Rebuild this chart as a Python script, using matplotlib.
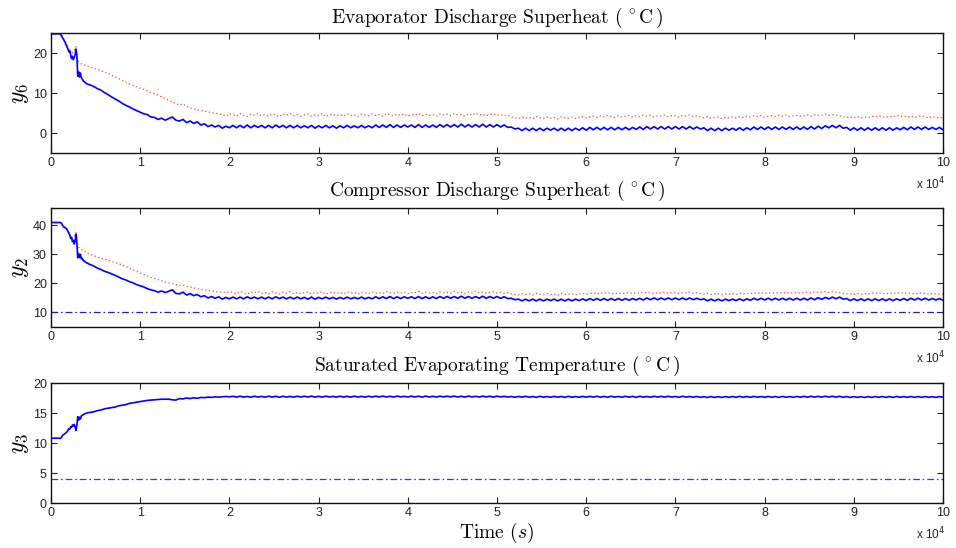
import numpy as np
import matplotlib
matplotlib.use("Agg")
import matplotlib.pyplot as plt

# ---------------- data ----------------
t_early = list(range(0, 4000, 100))          # 40 samples
t_late = list(range(4000, 100001, 400))      # 241 samples
time_s = np.array(t_early + t_late, dtype=float)

xtick_values = [0, 10000, 20000, 30000, 40000, 50000, 60000, 70000, 80000, 90000, 100000]
xtick_labels = ["0", "1", "2", "3", "4", "5", "6", "7", "8", "9", "10"]

# Evaporator discharge superheat y6 (blue solid = measured, red dotted = second signal)
y6_blue = (
    [24.8] * 11 +
    [24.6, 24.2, 23.8, 23.4, 23.0, 22.6, 22.0, 21.5, 21.0, 20.3,
     20.6, 19.5, 18.6, 19.2, 18.3, 18.9, 19.5, 21.0, 19.5, 14.2,
     15.3, 14.0, 15.0, 13.8, 13.5, 13.1, 12.9, 12.7, 12.5] +
    [12.3, 12.0, 11.6, 11.1, 10.7, 10.1, 9.6, 9.0, 8.5, 8.0,
     7.4, 6.9, 6.5, 6.0, 5.6, 5.2, 4.8, 4.6, 4.0, 3.9,
     3.4, 3.7, 3.2, 3.6, 4.0, 3.2, 3.0, 3.4, 2.6, 3.0,
     2.4, 2.8, 2.0, 2.3, 1.6, 2.0, 1.5, 1.9, 1.2, 1.7,
     1.3] +
    [1.9, 1.3, 1.9, 1.3, 2.0, 1.3, 1.9, 1.4, 1.9, 1.3, 1.9, 1.3, 2.0, 1.4, 1.9, 1.3, 1.9, 1.3, 1.9, 1.3,
     1.8, 1.3, 1.9, 1.2, 1.8, 1.3, 1.9, 1.3, 1.8, 1.2, 1.8, 1.3, 1.9, 1.3, 1.8, 1.3, 1.9, 1.3, 1.8, 1.3,
     2.0, 1.4, 2.0, 1.4, 2.1, 1.4, 2.0, 1.4, 2.0, 1.5, 2.0, 1.4, 2.1, 1.4, 2.0, 1.4, 2.0, 1.4, 2.1, 1.5,
     2.1, 1.5, 2.1, 1.5, 2.2, 1.5, 2.1, 1.5, 2.1, 1.5, 2.2, 1.5, 2.1, 1.5, 2.1, 1.5, 2.0, 1.4, 1.5, 1.0,
     1.2, 0.6, 1.2, 0.6, 1.2, 0.6, 1.2, 0.6, 1.2, 0.7, 1.2, 0.6, 1.2, 0.6, 1.2, 0.6, 1.2, 0.7, 1.3, 0.7,
     1.4, 0.8, 1.4, 0.8, 1.4, 0.8, 1.4, 0.8, 1.4, 0.8, 1.4, 0.8, 1.4, 0.9, 1.5, 0.9, 1.6, 1.0, 1.6, 1.0,
     1.6, 1.0, 1.6, 1.0, 1.6, 1.0, 1.6, 1.0, 1.6, 1.0, 1.5, 1.0, 1.3, 0.6, 1.2, 0.6, 1.2, 0.6, 1.2, 0.7,
     1.2, 0.7, 1.3, 0.7, 1.3, 0.8, 1.5, 0.9, 1.5, 0.9, 1.5, 0.9, 1.5, 0.9, 1.5, 0.9, 1.5, 0.9, 1.5, 0.9,
     1.5, 0.9, 1.6, 1.0, 1.7, 1.1, 1.8, 1.3, 1.9, 1.3, 1.9, 1.2, 1.4, 0.7, 1.3, 0.7, 1.3, 0.7, 1.3, 0.7,
     1.3, 0.7, 1.3, 0.7, 1.3, 0.7, 1.3, 0.8, 1.4, 0.8, 1.5, 0.9, 1.5, 0.9, 1.5, 0.9, 1.4, 0.9, 1.4, 0.8]
)
y6_red = (
    [24.8] * 11 +
    [24.7, 24.4, 24.0, 23.6, 23.2, 22.8, 22.5, 22.0, 21.5, 21.0,
     20.8, 20.2, 20.5, 20.0, 20.4, 20.8, 21.3, 21.6, 19.0, 18.0,
     17.8, 17.6, 17.4, 17.3, 17.2, 17.1, 17.0, 16.9, 16.8] +
    [16.7, 16.5, 16.2, 15.9, 15.6, 15.2, 15.0, 14.4, 14.0, 13.6,
     13.1, 12.7, 12.3, 11.9, 11.6, 11.2, 10.9, 10.5, 10.1, 9.8,
     9.5, 9.0, 8.6, 8.2, 7.7, 7.4, 7.0, 7.3, 6.6, 6.3,
     6.0, 5.8, 5.6, 5.5, 5.3, 5.1, 5.0, 4.8, 4.6, 4.2,
     4.8] +
    [4.6, 4.2, 4.9, 4.4, 4.1, 4.7, 4.5, 4.9, 4.3, 4.6, 4.2, 4.8, 4.5, 4.1, 4.7, 4.4, 4.9, 4.3, 4.6, 4.2,
     4.5, 4.8, 4.2, 4.6, 4.4, 4.9, 4.1, 4.5, 4.7, 4.3, 4.6, 4.2, 4.8, 4.4, 4.6, 4.1, 4.7, 4.5, 4.3, 4.8,
     4.4, 4.6, 4.2, 4.9, 4.5, 4.3, 4.7, 4.4, 4.8, 4.2, 4.6, 4.5, 4.9, 4.3, 4.7, 4.4, 4.6, 4.2, 4.8, 4.5,
     4.7, 4.3, 4.9, 4.5, 4.6, 4.2, 4.8, 4.4, 5.0, 4.5, 4.7, 4.3, 4.6, 4.8, 4.4, 4.6, 4.3, 4.5, 4.0, 3.8,
     3.6, 4.0, 3.7, 3.9, 3.5, 4.1, 3.8, 3.6, 4.0, 3.7, 3.9, 3.5, 4.1, 3.8, 3.7, 4.0, 3.6, 3.9, 4.1, 3.8,
     4.0, 4.2, 3.9, 4.3, 4.0, 4.4, 4.1, 3.9, 4.3, 4.0, 4.2, 4.4, 4.0, 4.3, 4.1, 4.5, 4.2, 4.4, 4.0, 4.3,
     4.2, 4.5, 4.1, 4.4, 4.3, 4.0, 4.4, 4.2, 4.5, 4.1, 4.3, 4.0, 3.8, 4.1, 3.7, 3.9, 4.0, 3.6, 3.9, 3.8,
     4.0, 3.7, 4.1, 3.9, 4.2, 4.0, 4.3, 4.1, 4.4, 4.0, 4.2, 4.3, 4.1, 4.4, 4.2, 4.5, 4.1, 4.3, 4.4, 4.2,
     4.3, 4.5, 4.2, 4.6, 4.4, 4.5, 4.7, 4.4, 4.6, 4.5, 4.3, 4.1, 3.9, 4.0, 3.7, 4.1, 3.8, 4.0, 3.9, 4.2,
     4.0, 4.3, 4.1, 3.9, 4.2, 4.0, 4.4, 4.1, 4.3, 4.0, 4.2, 3.9, 4.1, 4.3, 4.0, 3.8, 4.1, 3.9, 3.8, 3.9]
)

# Compressor discharge superheat y2
y2_blue = (
    [41.0] * 12 +
    [40.6, 40.0, 39.6, 39.3, 39.1, 39.0, 38.6, 38.0,
     37.2, 36.8, 35.5, 35.9, 34.4, 34.9, 33.6, 34.5, 37.0, 34.0,
     28.8, 30.3, 28.9, 30.0, 28.5, 28.7, 28.0, 27.8, 27.5, 27.3] +
    [27.1, 26.5, 26.0, 25.3, 24.8, 24.2, 23.8, 23.3, 22.8, 22.2,
     21.6, 21.2, 20.6, 20.2, 19.6, 19.2, 18.8, 18.2, 17.8, 17.5,
     17.0, 17.4, 16.9, 17.3, 17.8, 16.6, 16.4, 17.0, 16.0, 16.5,
     15.8, 16.2, 15.4, 15.8, 15.0, 15.5, 14.9, 15.4, 14.6, 15.2,
     14.7] +
    [15.3, 14.7, 15.3, 14.7, 15.4, 14.8, 15.3, 14.7, 15.3, 14.7, 15.3, 14.7, 15.4, 14.8, 15.3, 14.7, 15.3, 14.7, 15.3, 14.7,
     15.2, 14.6, 15.3, 14.6, 15.2, 14.7, 15.3, 14.7, 15.2, 14.6, 15.2, 14.7, 15.3, 14.7, 15.2, 14.7, 15.3, 14.7, 15.2, 14.7,
     15.4, 14.8, 15.4, 14.8, 15.5, 14.8, 15.4, 14.8, 15.4, 14.9, 15.4, 14.8, 15.5, 14.8, 15.4, 14.8, 15.4, 14.8, 15.5, 14.9,
     15.5, 14.9, 15.5, 14.9, 15.6, 14.9, 15.5, 14.9, 15.5, 14.9, 15.6, 14.9, 15.5, 14.9, 15.5, 14.9, 15.4, 14.8, 14.9, 14.4,
     14.6, 14.0, 14.6, 14.0, 14.6, 14.0, 14.6, 14.0, 14.6, 14.1, 14.6, 14.0, 14.6, 14.0, 14.6, 14.0, 14.6, 14.1, 14.7, 14.1,
     14.8, 14.2, 14.8, 14.2, 14.8, 14.2, 14.8, 14.2, 14.8, 14.2, 14.8, 14.2, 14.8, 14.3, 14.9, 14.3, 15.0, 14.4, 15.0, 14.4,
     15.0, 14.4, 15.0, 14.4, 15.0, 14.4, 15.0, 14.4, 15.0, 14.4, 14.9, 14.4, 14.7, 14.0, 14.6, 14.0, 14.6, 14.0, 14.6, 14.1,
     14.6, 14.1, 14.7, 14.1, 14.7, 14.2, 14.9, 14.3, 14.9, 14.3, 14.9, 14.3, 14.9, 14.3, 14.9, 14.3, 14.9, 14.3, 14.9, 14.3,
     14.9, 14.3, 15.0, 14.4, 15.1, 14.5, 15.2, 14.7, 15.3, 14.7, 15.3, 14.6, 14.8, 14.1, 14.7, 14.1, 14.7, 14.1, 14.7, 14.1,
     14.7, 14.1, 14.7, 14.1, 14.7, 14.1, 14.7, 14.2, 14.8, 14.2, 14.9, 14.3, 14.9, 14.3, 14.9, 14.3, 14.8, 14.3, 14.8, 14.2]
)
y2_red = (
    [41.0] * 12 +
    [40.7, 40.2, 39.8, 39.5, 39.2, 39.0, 38.6, 38.2,
     37.6, 37.0, 36.2, 36.5, 35.6, 35.8, 36.2, 36.8, 37.5, 35.5,
     33.0, 32.5, 32.2, 32.0, 31.8, 31.5, 31.4, 31.2, 31.0, 30.8] +
    [30.5, 30.1, 29.5, 29.1, 28.7, 28.4, 28.0, 27.6, 27.2, 26.8,
     26.3, 25.8, 25.3, 24.7, 24.2, 23.6, 23.1, 22.6, 22.1, 21.7,
     21.3, 20.9, 20.5, 20.2, 20.0, 19.6, 19.3, 19.4, 19.0, 18.8,
     18.5, 18.2, 18.0, 17.8, 17.6, 17.4, 17.2, 17.0, 17.1, 16.8,
     17.2] +
    [16.9, 16.4, 17.2, 16.7, 16.3, 17.0, 16.8, 17.3, 16.5, 16.9, 16.4, 17.1, 16.8, 16.3, 17.0, 16.6, 17.2, 16.5, 16.9, 16.4,
     16.8, 17.1, 16.4, 16.9, 16.6, 17.2, 16.3, 16.8, 17.0, 16.5, 16.9, 16.4, 17.1, 16.7, 16.9, 16.3, 17.0, 16.8, 16.5, 17.1,
     16.7, 16.9, 16.5, 17.2, 16.8, 16.6, 17.0, 16.7, 17.1, 16.5, 16.9, 16.8, 17.3, 16.6, 17.0, 16.7, 16.9, 16.5, 17.1, 16.8,
     17.0, 16.6, 17.3, 16.8, 16.9, 16.5, 17.1, 16.7, 17.4, 16.8, 17.0, 16.6, 16.9, 17.1, 16.7, 16.9, 16.6, 16.8, 16.4, 16.2,
     16.1, 16.5, 16.2, 16.4, 16.0, 16.6, 16.3, 16.1, 16.5, 16.2, 16.4, 16.0, 16.6, 16.3, 16.2, 16.5, 16.1, 16.4, 16.6, 16.3,
     16.5, 16.7, 16.4, 16.8, 16.5, 16.9, 16.6, 16.4, 16.8, 16.5, 16.7, 16.9, 16.5, 16.8, 16.6, 17.0, 16.7, 16.9, 16.5, 16.8,
     16.7, 17.0, 16.6, 16.9, 16.8, 16.5, 16.9, 16.7, 17.0, 16.6, 16.8, 16.5, 16.3, 16.6, 16.2, 16.4, 16.5, 16.1, 16.4, 16.3,
     16.5, 16.2, 16.6, 16.4, 16.7, 16.5, 16.8, 16.6, 16.9, 16.5, 16.7, 16.8, 16.6, 16.9, 16.7, 17.0, 16.6, 16.8, 16.9, 16.7,
     16.8, 17.0, 16.7, 17.1, 16.9, 17.0, 17.2, 16.9, 17.1, 17.0, 16.8, 16.6, 16.4, 16.5, 16.2, 16.6, 16.3, 16.5, 16.4, 16.7,
     16.5, 16.8, 16.6, 16.4, 16.7, 16.5, 16.9, 16.6, 16.8, 16.5, 16.7, 16.4, 16.6, 16.8, 16.5, 16.3, 16.6, 16.4, 16.3, 16.4]
)
y2_setpoint = 10.0

# Saturated evaporating temperature y3
y3_blue = (
    [10.8] * 12 +
    [11.0, 11.3, 11.4, 11.5, 11.6, 11.7, 11.9, 12.1,
     12.4, 12.3, 12.7, 12.6, 13.0, 12.8, 13.1, 12.7, 12.1, 13.0,
     14.4, 13.8, 14.3, 14.0, 14.5, 14.6, 14.7, 14.8, 14.9, 14.9] +
    [15.0, 15.1, 15.2, 15.4, 15.5, 15.7, 15.8, 15.9, 16.0, 16.2,
     16.3, 16.4, 16.6, 16.7, 16.8, 16.9, 17.0, 17.1, 17.15, 17.2,
     17.25, 17.3, 17.3, 17.3, 17.2, 17.15, 17.4, 17.35, 17.5, 17.4,
     17.55, 17.45, 17.6, 17.55, 17.65, 17.6, 17.7, 17.65, 17.7, 17.75,
     17.7] +
    [17.78, 17.66, 17.80, 17.65, 17.76, 17.62, 17.80, 17.66, 17.76, 17.64, 17.80, 17.66, 17.78, 17.62, 17.80, 17.65, 17.76, 17.64, 17.80, 17.66,
     17.79, 17.67, 17.81, 17.66, 17.78, 17.64, 17.81, 17.67, 17.77, 17.65, 17.80, 17.66, 17.79, 17.63, 17.81, 17.66, 17.77, 17.65, 17.80, 17.67,
     17.80, 17.68, 17.82, 17.67, 17.79, 17.65, 17.82, 17.68, 17.78, 17.66, 17.81, 17.67, 17.80, 17.64, 17.82, 17.67, 17.78, 17.66, 17.81, 17.68,
     17.80, 17.68, 17.82, 17.67, 17.79, 17.65, 17.82, 17.68, 17.78, 17.66, 17.81, 17.67, 17.80, 17.64, 17.82, 17.67, 17.78, 17.66, 17.75, 17.62,
     17.76, 17.64, 17.78, 17.63, 17.75, 17.61, 17.78, 17.64, 17.74, 17.62, 17.77, 17.63, 17.76, 17.60, 17.78, 17.63, 17.74, 17.62, 17.77, 17.64,
     17.77, 17.65, 17.79, 17.64, 17.76, 17.62, 17.79, 17.65, 17.75, 17.63, 17.78, 17.64, 17.77, 17.61, 17.79, 17.64, 17.75, 17.63, 17.78, 17.65,
     17.77, 17.65, 17.79, 17.64, 17.76, 17.62, 17.79, 17.65, 17.75, 17.63, 17.76, 17.60, 17.73, 17.58, 17.74, 17.60, 17.72, 17.59, 17.74, 17.61,
     17.75, 17.62, 17.77, 17.62, 17.75, 17.61, 17.77, 17.63, 17.74, 17.62, 17.76, 17.62, 17.75, 17.60, 17.77, 17.62, 17.74, 17.61, 17.76, 17.63,
     17.77, 17.64, 17.79, 17.64, 17.78, 17.64, 17.80, 17.66, 17.79, 17.65, 17.78, 17.62, 17.74, 17.59, 17.73, 17.60, 17.72, 17.59, 17.74, 17.60,
     17.74, 17.61, 17.75, 17.60, 17.74, 17.60, 17.76, 17.62, 17.74, 17.61, 17.75, 17.61, 17.74, 17.60, 17.75, 17.61, 17.73, 17.60, 17.74, 17.62]
)
y3_setpoint = 4.0

# ---------------- style ----------------
plt.rcParams["mathtext.fontset"] = "cm"
plt.rcParams["font.family"] = ["Liberation Sans", "DejaVu Sans"]
plt.rcParams["axes.unicode_minus"] = False

W, H = 956, 548
fig = plt.figure(figsize=(W / 100, H / 100), dpi=100)


def make_axes(top_px, bottom_px):
    left_px, right_px = 51, 943
    return fig.add_axes([left_px / W, 1 - bottom_px / H,
                         (right_px - left_px) / W, (bottom_px - top_px) / H])


def style(ax, ylim, yticks, title, ylabel, title_pad):
    ax.set_xlim(0, 100000)
    ax.set_ylim(*ylim)
    ax.set_xticks(xtick_values)
    ax.set_xticklabels(xtick_labels)
    ax.set_yticks(yticks)
    ax.tick_params(direction="in", top=True, right=True, length=4.5, width=0.8,
                   labelsize=9, pad=3, colors="#222222", labelcolor="#222222")
    for s in ax.spines.values():
        s.set_linewidth(1.0)
        s.set_color("#111111")
    ax.set_title(title, fontfamily="cmr10", fontsize=14, pad=title_pad)
    ax.set_ylabel(ylabel, fontsize=17, labelpad=1)
    ax.text(1.002, -0.19, r"x 10$^{4}$", transform=ax.transAxes, ha="right", va="top",
            fontsize=8.5, math_fontfamily="dejavusans", color="#222222")


dot_style = (0, (1.0, 2.0))
dashdot_style = (0, (5.4, 2.3, 1.3, 2.3))

ax1 = make_axes(33, 153)
ax1.plot(time_s, y6_red, color="#ff2020", lw=0.9, ls=dot_style, alpha=0.85)
ax1.plot(time_s, y6_blue, color="#0000ff", lw=1.2)
style(ax1, (-5, 25), [0, 10, 20], r"Evaporator Discharge Superheat ($\,^\circ$C$\,$)", r"$y_6$", 7)

ax2 = make_axes(208, 327)
ax2.plot(time_s, y2_red, color="#ff2020", lw=0.9, ls=dot_style, alpha=0.85)
ax2.plot(time_s, y2_blue, color="#0000ff", lw=1.2)
ax2.axhline(y2_setpoint, color="#2222aa", lw=0.9, ls=dashdot_style)
style(ax2, (5, 46), [10, 20, 30, 40], r"Compressor Discharge Superheat ($\,^\circ$C$\,$)", r"$y_2$", 9)

ax3 = make_axes(383, 503)
ax3.plot(time_s, y3_blue, color="#0000ff", lw=1.2)
ax3.axhline(y3_setpoint, color="#3333ff", lw=0.9, ls=dashdot_style)
style(ax3, (0, 20), [0, 5, 10, 15, 20], r"Saturated Evaporating Temperature ($\,^\circ$C$\,$)", r"$y_3$", 9)
ax3.set_xlabel(r"Time ($s$)", fontfamily="cmr10", fontsize=14, labelpad=1)

fig.savefig("out.png", dpi=100)
